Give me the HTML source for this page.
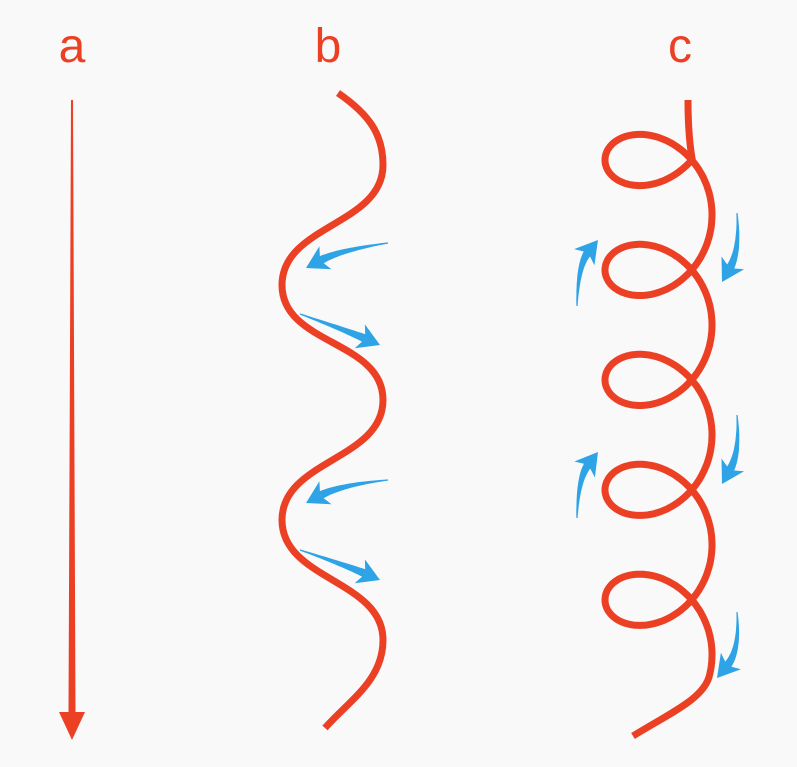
<!DOCTYPE html>
<html><head><meta charset="utf-8"><style>
html,body{margin:0;padding:0;background:#f9f9f9;}
svg{display:block}
text{font-family:"Liberation Sans","DejaVu Sans",sans-serif;font-size:48px;fill:#ec4025;text-anchor:middle}
</style></head><body>
<svg id="s" width="797" height="767" viewBox="0 0 797 767" xmlns="http://www.w3.org/2000/svg">
<rect width="797" height="767" fill="#f9f9f9"/>
<text x="72" y="62">a</text>
<text x="328" y="62">b</text>
<text x="680" y="62">c</text>
<polygon points="71,100 73,100 75.5,712 85,712 72,740 59,712 68.5,712" fill="#ec4025"/>
<path d="M338,93 C370,115 383,135 383,165 C383,225 282,225 282,285 C282,345 383,340 383,400 C383,460 282,460 282,520 C282,580 383,580 383,640 C383,680 350,700 325,728" fill="none" stroke="#ec4025" stroke-width="7"/>
<path id="c" fill="none" stroke="#ec4025" stroke-width="7"/>
<g id="ar" fill="#2ea3e6"></g>
</svg>
<script>
var y0=105,b=17.5,r=50,c=658.5,R=53.5;
function P(t){return [c+R*Math.cos(t), y0+b*t+r*Math.sin(t)];}
var p0=P(0.89);
var d="M688,100 Q688,135 "+p0[0].toFixed(1)+","+p0[1].toFixed(1)+" ";
for(var t=0.9;t<=10*Math.PI+0.3;t+=0.03){
 var p=P(t); d+="L"+p[0].toFixed(1)+","+p[1].toFixed(1)+" ";
}
d+="C705,698 672,712 633,736";
document.getElementById("c").setAttribute("d",d);
var g=document.getElementById("ar"),h="";
function arrow(x1,y1,cx,cy,x2,y2){
 var dx=x2-cx,dy=y2-cy,L=Math.hypot(dx,dy);dx/=L;dy/=L;
 var nx=-dy,ny=dx,hl=22,hw=13;
 var bx=x2-dx*hl,by=y2-dy*hl;
 var ex=bx+dx*6,ey=by+dy*6;
 var left=[],right=[];
 for(var i=0;i<=20;i++){
  var s=i/20,u=1-s;
  var px=u*u*x1+2*u*s*cx+s*s*ex, py=u*u*y1+2*u*s*cy+s*s*ey;
  var tx=2*u*(cx-x1)+2*s*(ex-cx), ty=2*u*(cy-y1)+2*s*(ey-cy), tl=Math.hypot(tx,ty);
  var w=0.6+3.6*s;
  left.push((px-ty/tl*w).toFixed(1)+","+(py+tx/tl*w).toFixed(1));
  right.unshift((px+ty/tl*w).toFixed(1)+","+(py-tx/tl*w).toFixed(1));
 }
 h+='<polygon points="'+left.concat(right).join(" ")+'"/>';
 h+='<polygon points="'+x2+','+y2+' '+(bx+nx*hw).toFixed(1)+','+(by+ny*hw).toFixed(1)+' '+(bx+dx*6).toFixed(1)+','+(by+dy*6).toFixed(1)+' '+(bx-nx*hw).toFixed(1)+','+(by-ny*hw).toFixed(1)+'"/>';
}
arrow(388,243,340,250,306,268);
arrow(300,314,345,330,380,345);
arrow(388,480,340,485,306,503);
arrow(300,550,345,565,380,580);
arrow(577,306,578,265,598,240);
arrow(577,518,578,478,598,452);
arrow(737,213,740,250,722,282);
arrow(737,415,740,452,722,484);
arrow(737,612,740,650,717,678);
g.innerHTML=h;
</script>
</body></html>
